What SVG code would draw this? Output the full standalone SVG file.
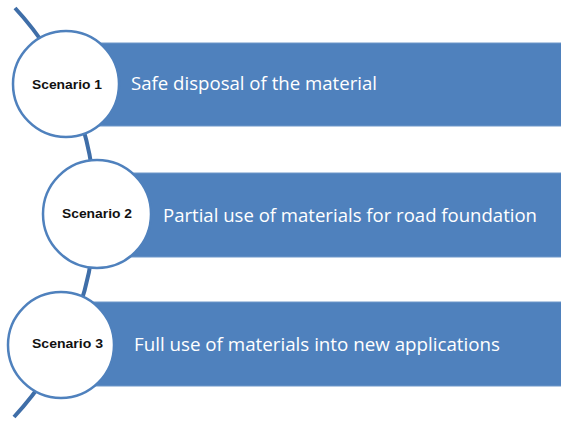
<svg xmlns="http://www.w3.org/2000/svg" width="561" height="422" viewBox="0 0 561 422">
<style>
.bar{fill:#4f81bd;stroke:#6f97c9;stroke-width:1}
.circ{fill:#ffffff;stroke:#4f81bd;stroke-width:2.5}
.lab{font-family:"Liberation Sans",Arial,sans-serif;font-weight:bold;font-size:13px;fill:#111111}
.txt{font-family:"Open Sans","Liberation Sans",Arial,sans-serif;font-size:18px;fill:#ffffff}
.arc{fill:none;stroke:#3f6ea8;stroke-width:4}
</style>
<rect width="561" height="422" fill="#ffffff"/>
<g id="connectors">
<path class="arc" d="M15,8 A300,300 0 0 1 14,417"/>
</g>
<g id="scenario1">
<rect class="bar" x="66" y="43" width="500" height="83"/>
<circle class="circ" cx="66" cy="84" r="53"/>
<text class="lab" x="32" y="89" textLength="70" lengthAdjust="spacingAndGlyphs">Scenario 1</text>
<text class="txt" x="131" y="90" textLength="246" lengthAdjust="spacingAndGlyphs">Safe disposal of the material</text>
</g>
<g id="scenario2">
<rect class="bar" x="98" y="173" width="470" height="84"/>
<circle class="circ" cx="97" cy="214" r="54"/>
<text class="lab" x="62" y="218" textLength="70" lengthAdjust="spacingAndGlyphs">Scenario 2</text>
<text class="txt" x="163" y="222" textLength="374" lengthAdjust="spacingAndGlyphs">Partial use of materials for road foundation</text>
</g>
<g id="scenario3">
<rect class="bar" x="61" y="302" width="505" height="84"/>
<circle class="circ" cx="61" cy="345" r="53"/>
<text class="lab" x="32" y="348" textLength="71" lengthAdjust="spacingAndGlyphs">Scenario 3</text>
<text class="txt" x="134" y="351" textLength="366" lengthAdjust="spacingAndGlyphs">Full use of materials into new applications</text>
</g>
</svg>
